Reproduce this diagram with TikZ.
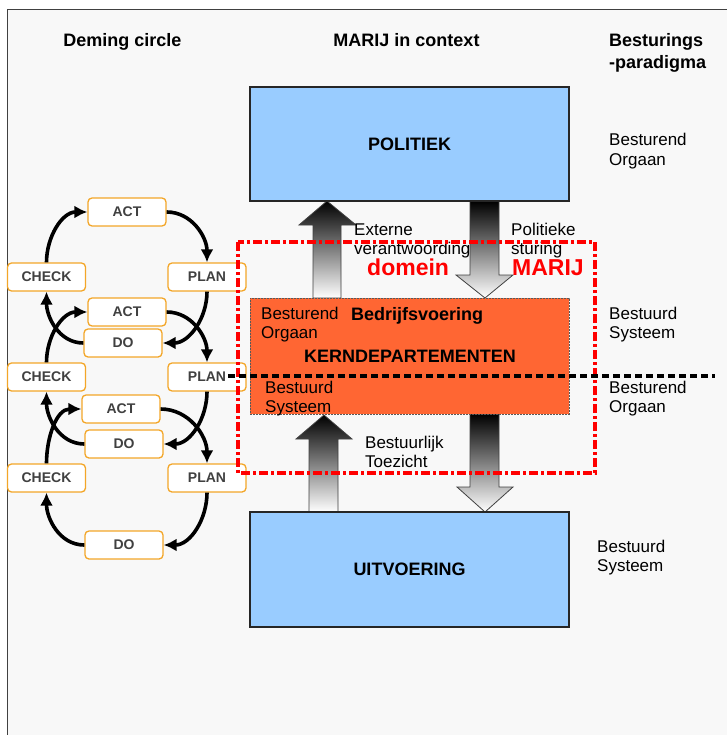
\documentclass[tikz,border=0pt]{standalone}
\usepackage{fontspec}
\setmainfont{Liberation Sans}
\usepackage{tikz}
\definecolor{achter}{RGB}{248, 248, 248}
\definecolor{blauw}{RGB}{153, 204, 255}
\definecolor{kernrood}{RGB}{255, 102, 51}
\definecolor{pdcarand}{RGB}{243, 166, 40}
\definecolor{pdcatekst}{RGB}{64, 64, 64}
\definecolor{marijrood}{RGB}{255, 0, 0}
\usetikzlibrary{positioning}
\usetikzlibrary{arrows.meta}

\begin{document}
\begin{tikzpicture}[
  kop/.style={font=\bfseries\fontsize{18}{22}\selectfont, inner sep=0pt, align=left},
  lbl/.style={font=\fontsize{17}{19.5}\selectfont, inner sep=0pt, align=left, anchor=base west},
  pdca/.style={rectangle, rounded corners=4pt, draw=pdcarand, fill=white, line width=1.3pt, minimum width=78pt, minimum height=28pt, inner sep=0pt, text=pdcatekst, font=\bfseries\fontsize{14}{16}\selectfont},
  blok/.style={rectangle, draw=black!85, fill=blauw, line width=1.2pt, minimum width=319pt, minimum height=115pt, inner sep=0pt, font=\bfseries\fontsize{18}{21}\selectfont},
  cyclus/.style={line width=3.6pt, -{Latex[length=13pt, width=13pt]}},
  pijl/.style={top color=black, bottom color=white, draw=black!75, line width=0.8pt}]
\useasboundingbox (0pt, 0pt) rectangle (727pt, -735pt);
% achtergrond en kader
\fill [achter] (7pt, -10pt) rectangle (727pt, -735pt);
\draw [black!75, line width=1pt] (7pt, -735pt) -- (7pt, -10pt) -- (727pt, -10pt);
% kopjes
\node (k1) [kop, anchor=base] at (122.5pt, -47pt) {Deming circle};
\node (k2) [kop, anchor=base] at (406.5pt, -47pt) {MARIJ in context};
\node (k3) [kop, anchor=base west] at (609pt, -69pt) {Besturings\\-paradigma};
% blokpijlen
\shade [pijl] (313pt, -298pt) -- (313pt, -225pt) -- (299pt, -225pt) -- (327pt, -201pt) -- (356pt, -225pt) -- (341pt, -225pt) -- (341pt, -298pt) -- cycle;
\shade [pijl] (470pt, -201pt) -- (470pt, -275pt) -- (456pt, -275pt) -- (485pt, -298pt) -- (513pt, -275pt) -- (499pt, -275pt) -- (499pt, -201pt) -- cycle;
\shade [pijl] (309pt, -512pt) -- (309pt, -439pt) -- (296pt, -439pt) -- (324pt, -415pt) -- (352pt, -439pt) -- (338pt, -439pt) -- (338pt, -512pt) -- cycle;
\shade [pijl] (470pt, -414pt) -- (470pt, -487pt) -- (457pt, -487pt) -- (485pt, -512pt) -- (513pt, -487pt) -- (499pt, -487pt) -- (499pt, -414pt) -- cycle;
% blokken
\node (pol) [blok, minimum height=114pt] at (409.5pt, -144pt) {POLITIEK};
\node (uit) [blok] at (409.5pt, -569.5pt) {UITVOERING};
\node (kern) [blok, fill=kernrood, draw=black!65, line width=0.8pt, dash pattern=on 2pt off 1pt, minimum height=116pt] at (409.5pt, -356pt) {};
\node (kt) [font=\bfseries\fontsize{18}{21}\selectfont, inner sep=0pt, anchor=base] at (410pt, -362pt) {KERNDEPARTEMENTEN};
\node (bv) [font=\bfseries\fontsize{18}{21}\selectfont, inner sep=0pt, anchor=base west] at (351pt, -320pt) {Bedrijfsvoering};
\node (bo1) [lbl] at (261pt, -338.5pt) {Besturend\\Orgaan};
\node (bs1) [lbl] at (265pt, -412.5pt) {Bestuurd\\Systeem};
% teksten bij de pijlen
\node (ev) [lbl] at (354pt, -254.5pt) {Externe\\verantwoording};
\node (ps) [lbl] at (511pt, -254.5pt) {Politieke\\sturing};
\node (bt) [lbl] at (365pt, -467.5pt) {Bestuurlijk\\Toezicht};
\node (dm) [lbl, text=marijrood, font=\bfseries\fontsize{23}{26}\selectfont] at (367pt, -275pt) {domein};
\node (mj) [lbl, text=marijrood, font=\bfseries\fontsize{23}{26}\selectfont] at (512pt, -275pt) {MARIJ};
% besturingsparadigma
\node (r1) [lbl] at (609pt, -165.5pt) {Besturend\\Orgaan};
\node (r2) [lbl] at (609pt, -338.5pt) {Bestuurd\\Systeem};
\node (r3) [lbl] at (609pt, -412.5pt) {Besturend\\Orgaan};
\node (r4) [lbl] at (597pt, -571.5pt) {Bestuurd\\Systeem};
% deming cirkels
\node (act1) [pdca] at (127pt, -212pt) {ACT};
\node (check1) [pdca] at (46.5pt, -277pt) {CHECK};
\node (plan1) [pdca] at (207pt, -277pt) {PLAN};
\node (act2) [pdca] at (127pt, -312pt) {ACT};
\node (do1) [pdca] at (123pt, -343pt) {DO};
\node (check2) [pdca] at (46.5pt, -377pt) {CHECK};
\node (plan2) [pdca] at (207pt, -377pt) {PLAN};
\node (act3) [pdca] at (121pt, -409pt) {ACT};
\node (do2) [pdca] at (124pt, -444pt) {DO};
\node (check3) [pdca] at (46.5pt, -478pt) {CHECK};
\node (plan3) [pdca] at (207pt, -478pt) {PLAN};
\node (do3) [pdca] at (124pt, -545pt) {DO};
\draw [cyclus] (check1.north) to[out=90, in=180] (act1.west);
\draw [cyclus] (act1.east) to[out=0, in=90] (plan1.north);
\draw [cyclus] (plan1.south) to[out=-90, in=0] (do1.east);
\draw [cyclus] (do1.west) to[out=180, in=-90] (check1.south);
\draw [cyclus] (check2.north) to[out=90, in=180] (act2.west);
\draw [cyclus] (act2.east) to[out=0, in=90] (plan2.north);
\draw [cyclus] (plan2.south) to[out=-90, in=0] (do2.east);
\draw [cyclus] (do2.west) to[out=180, in=-90] (check2.south);
\draw [cyclus] (check3.north) to[out=90, in=180] (act3.west);
\draw [cyclus] (act3.east) to[out=0, in=90] (plan3.north);
\draw [cyclus] (plan3.south) to[out=-90, in=0] (do3.east);
\draw [cyclus] (do3.west) to[out=180, in=-90] (check3.south);
% domein MARIJ en scheidingslijn
\draw [marijrood, line width=3.5pt, dash pattern=on 9pt off 3pt on 3pt off 3pt] (238pt, -242pt) rectangle (595pt, -473pt);
\coordinate (sl) at (228pt, -376pt);
\coordinate (sr) at (715pt, -376pt);
\draw [black, line width=3.5pt, dash pattern=on 7pt off 4pt] (sl) -- (sr);
\end{tikzpicture}
\end{document}
